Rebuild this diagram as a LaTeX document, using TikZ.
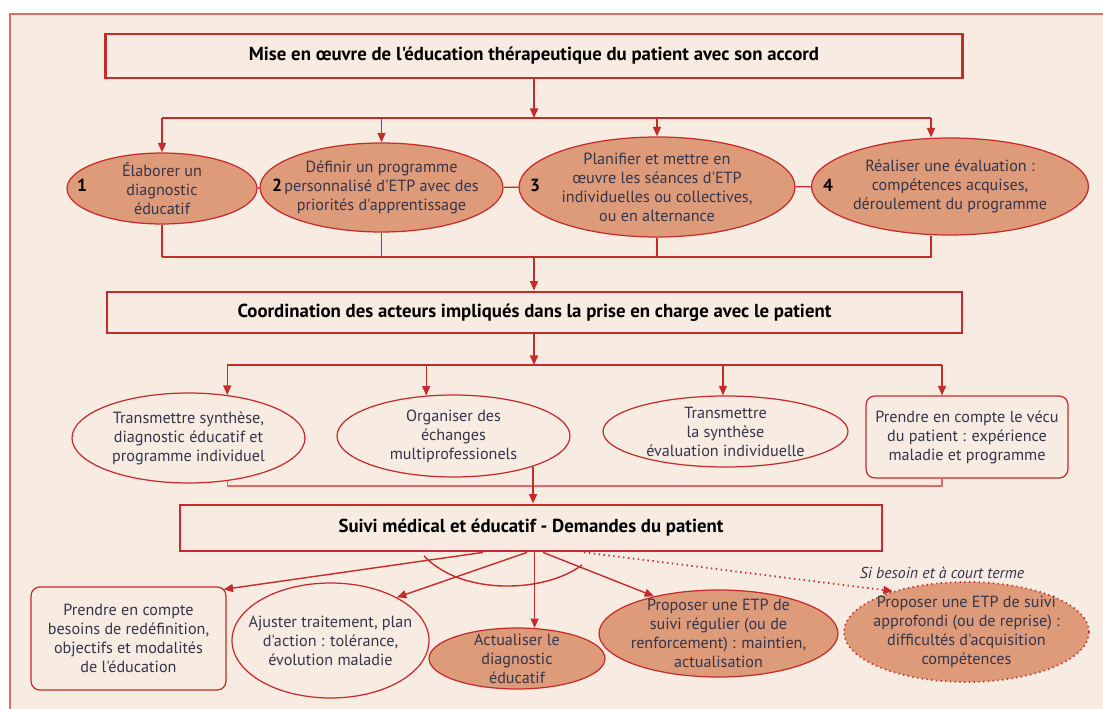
\documentclass[tikz,border=0pt]{standalone}
\usepackage{fontspec}
\setmainfont{PT Sans}[Ligatures=TeXOff]
\usepackage{tikz}
\usetikzlibrary{arrows.meta,shapes.geometric}
\definecolor{fond}{HTML}{F8EBE2}
\definecolor{rouge}{HTML}{C62B2B}
\definecolor{cadre}{HTML}{E06A66}
\definecolor{saumon}{HTML}{DE9B7A}
\definecolor{encre}{HTML}{34344A}
\tikzset{>={Triangle[length=1.9mm,width=1.6mm]},
  titre/.style={draw=rouge, line width=1.6pt, fill=fond, inner sep=0pt,
    font=\fontsize{10.7}{12}\selectfont\bfseries, text=black},
  etape/.style={ellipse, draw=rouge, line width=0.7pt, fill=saumon, inner sep=-15pt,
    align=center, text=encre, font=\fontsize{9.2}{10.8}\selectfont},
  action/.style={etape, fill=fond},
  cadrebox/.style={rectangle, rounded corners=5pt, draw=rouge, line width=0.7pt, fill=fond,
    inner sep=0pt, align=center, text=encre, font=\fontsize{9.2}{10.8}\selectfont},
  num/.style={font=\fontsize{10}{11}\selectfont\bfseries, text=black, inner sep=0pt},
  fleche/.style={->, draw=rouge, line width=0.8pt},
  trait/.style={draw=rouge, line width=0.8pt}}

\begin{document}
\begin{tikzpicture}[x=0.02cm,y=-0.02cm]
\clip (0,0) rectangle (1103,709);
\fill[white] (0,0) rectangle (1103,709);
\draw[cadre, line width=1.2pt, fill=fond] (10,14) rectangle (1140,740);

\node[titre, minimum width=17.14cm, minimum height=0.88cm] (mise) at (534,56)
  {Mise en œuvre de l'éducation thérapeutique du patient avec son accord};
\node[titre, minimum width=17.1cm, minimum height=0.82cm] (coord) at (534.5,312.5)
  {Coordination des acteurs impliqués dans la prise en charge avec le patient};
\node[titre, minimum width=14.04cm, minimum height=0.92cm] (suivi) at (531,528)
  {Suivi médical et éducatif - Demandes du patient};

\node[etape, minimum width=3.8cm, minimum height=1.42cm] (e1) at (162,188.5)
  {Élaborer un\\diagnostic\\éducatif};
\node[etape, minimum width=4.86cm, minimum height=1.78cm] (e2) at (381.5,187.5)
  {Définir un programme\\personnalisé d'ETP avec des\\priorités d'apprentissage};
\node[etape, minimum width=5.52cm, minimum height=2cm] (e3) at (657,187)
  {Planifier et mettre en\\œuvre les séances d'ETP\\individuelles ou collectives,\\ou en alternance};
\node[etape, minimum width=5.54cm, minimum height=1.94cm] (e4) at (950,186.5)
  {Réaliser une évaluation :\\compétences acquises,\\déroulement du programme};
\foreach \n/\x in {1/82,2/277,3/535,4/828}
  \node[num] (n\n) at (\x,185) {\n};

\node[action, minimum width=4.66cm, minimum height=1.8cm] (eA) at (188.5,438)
  {Transmettre synthèse,\\diagnostic éducatif et\\programme individuel};
\node[action, minimum width=4.66cm, minimum height=1.64cm] (eB) at (453.5,436)
  {Organiser des\\échanges\\multiprofessionels};
\node[action, minimum width=4.9cm, minimum height=1.42cm] (eC) at (725.5,431.5)
  {Transmettre\\la synthèse\\évaluation individuelle};
\node[cadrebox, minimum width=4.04cm, minimum height=1.64cm] (vecu) at (967,437)
  {Prendre en compte le vécu\\du patient : expérience\\maladie et programme};

\node[cadrebox, minimum width=3.9cm, minimum height=2.06cm] (besoins) at (128.5,638.5)
  {Prendre en compte\\besoins de redéfinition,\\objectifs et modalités\\de l'éducation};
\node[action, minimum width=3.94cm, minimum height=2.3cm] (ajust) at (330.5,640.5)
  {Ajuster traitement, plan\\d'action : tolérance,\\évolution maladie};
\node[etape, minimum width=3.52cm, minimum height=1.22cm] (actu) at (517,658.5)
  {Actualiser le\\diagnostic\\éducatif};
\node[etape, minimum width=4.78cm, minimum height=1.74cm] (regul) at (718.5,633.5)
  {Proposer une ETP de\\suivi régulier (ou de\\renforcement) : maintien,\\actualisation};
\node[etape, dotted, line width=1pt, minimum width=4.9cm, minimum height=2cm] (appro) at (966.5,632)
  {Proposer une ETP de suivi\\approfondi (ou de reprise) :\\difficultés d'acquisition\\compétences};
\node[text=encre, font=\fontsize{9}{10}\selectfont\itshape] (court) at (942,573)
  {Si besoin et à court terme};

\coordinate (h1) at (534,118);
\coordinate (f4) at (931,118);
\coordinate (b1) at (534,257);
\draw[fleche] (mise) -- (h1);
\draw[trait] (e1 |- h1) -- (f4);
\foreach \n in {e1,e2,e3}
  \draw[fleche] (\n |- h1) -- (\n);
\draw[fleche] (f4) -- (f4 |- e4.north);
\draw[trait] (e1) -- (e2) (e2) -- (e3) (e3) -- (e4);
\foreach \n in {e1,e2,e3}
  \draw[trait] (\n.south) -- (\n.south |- b1);
\draw[trait] (f4 |- e4.south) -- (f4 |- b1) -- (e1.south |- b1);
\draw[fleche] (b1) -- (b1 |- coord.north);

\coordinate (h2) at (534,365);
\draw[fleche] (coord.south -| h2) -- (h2);
\draw[trait] (eA.48 |- h2) -- ([xshift=-0.5cm]vecu.north |- h2);
\foreach \a in {eA.48,eB.124,eC.94}
  \draw[fleche] (\a |- h2) -- (\a);
\draw[fleche] ([xshift=-0.5cm]vecu.north |- h2) -- ([xshift=-0.5cm]vecu.north);
\draw[draw=cadre, line width=0.8pt] (eA.-48) -- (eA.-48 |- 0,486) -- ([xshift=-0.5cm]vecu.south |- 0,486) -- ([xshift=-0.5cm]vecu.south);
\draw[fleche] (eB.-21) -- (eB.-21 |- suivi.north);

\draw[fleche] ([xshift=-0.96cm]suivi.south) -- ([xshift=-0.06cm,yshift=-0.06cm]besoins.north east);
\draw[fleche] ([xshift=-0.08cm]suivi.south) -- (ajust.33);
\draw[fleche] (actu.60 |- suivi.south) -- (actu.60);
\draw[fleche] ([xshift=0.24cm]suivi.south) -- (regul.150);
\draw[fleche, dotted, line width=1pt] ([xshift=1.06cm]suivi.south) -- (appro.151);
\draw[trait] (424,556) .. controls (462,596) and (545,593) .. (582,565);
\end{tikzpicture}
\end{document}
